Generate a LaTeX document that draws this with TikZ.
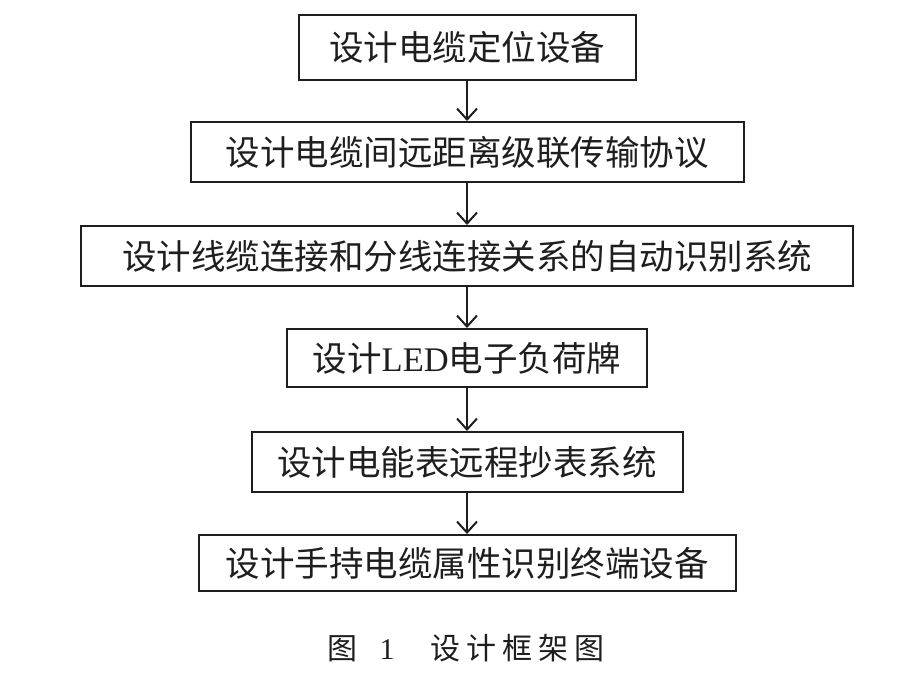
\documentclass[tikz,border=0pt]{standalone}
\usepackage{fontspec}
\setmainfont{Liberation Serif}
\newfontfamily\cjk{Noto Sans CJK SC}
\newfontfamily\capfont[LetterSpace=20]{Noto Sans CJK SC}
\usetikzlibrary{arrows.meta}
\definecolor{ink}{HTML}{1E1E1E}
\tikzset{
  stepbox/.style={draw=ink, line width=2pt, rectangle, inner sep=0pt, text=ink,
    font=\fontsize{34.5pt}{36pt}\selectfont\cjk},
  flowarrow/.style={draw=ink, line width=2pt, -{Straight Barb[length=11pt,width=20pt,line width=2pt]}}
}
\begin{document}
\begin{tikzpicture}[x=1pt,y=-1pt]
\useasboundingbox (0,0) rectangle (917,691);
\node[stepbox, minimum width=337pt, minimum height=65pt] (b1) at (467,47.5) {设计电缆定位设备};
\node[stepbox, minimum width=553pt, minimum height=60pt] (b2) at (467,152) {设计电缆间远距离级联传输协议};
\node[stepbox, minimum width=772pt, minimum height=60pt] (b3) at (467,256) {设计线缆连接和分线连接关系的自动识别系统};
\node[stepbox, minimum width=360pt, minimum height=58pt] (b4) at (467,358) {设计{\rmfamily LED}电子负荷牌};
\node[stepbox, minimum width=431pt, minimum height=60pt] (b5) at (467,462) {设计电能表远程抄表系统};
\node[stepbox, minimum width=537pt, minimum height=56pt] (b6) at (467,563) {设计手持电缆属性识别终端设备};
\draw[flowarrow] (b1.south) -- (b2.north);
\draw[flowarrow] (b2.south) -- (b3.north);
\draw[flowarrow] (b3.south) -- (b4.north);
\draw[flowarrow] (b4.south) -- (b5.north);
\draw[flowarrow] (b5.south) -- (b6.north);
\node[text=ink, inner sep=0pt, font=\fontsize{30pt}{32pt}\selectfont] (cap) at (466,648)
  {{\cjk 图}\hspace{22pt}1\hspace{36pt}{\capfont 设计框架图}};
\end{tikzpicture}
\end{document}
